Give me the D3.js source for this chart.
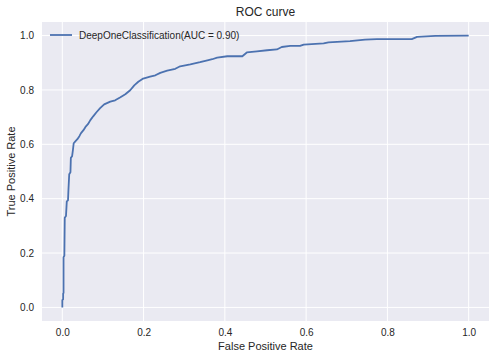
<!DOCTYPE html>
<html>
<head>
<meta charset="utf-8">
<script src="https://cdn.jsdelivr.net/npm/d3@7"></script>
<style>
  body { margin: 0; background: #fff; }
  text { font-family: "Liberation Sans", Arial, sans-serif; fill: #262626; }
</style>
</head>
<body>
<svg id="chart" width="495" height="359"></svg>
<script>
// ROC points
const fpr = [0, 0, 0.002, 0.002, 0.003, 0.003, 0.005, 0.006, 0.009, 0.011, 0.014, 0.015, 0.017, 0.02,
  0.021, 0.024, 0.026, 0.028, 0.032, 0.037, 0.042, 0.046, 0.052, 0.057, 0.063, 0.069, 0.076, 0.084,
  0.093, 0.103, 0.118, 0.13, 0.143, 0.155, 0.167, 0.177, 0.187, 0.199, 0.216, 0.229, 0.241, 0.258,
  0.278, 0.29, 0.315, 0.339, 0.357, 0.369, 0.381, 0.406, 0.443, 0.454, 0.479, 0.504, 0.528, 0.54,
  0.561, 0.585, 0.594, 0.643, 0.655, 0.708, 0.745, 0.774, 0.86, 0.873, 0.918, 0.995, 1];
const tpr = [0, 0.027, 0.03, 0.051, 0.053, 0.185, 0.19, 0.33, 0.336, 0.39, 0.394, 0.43, 0.49, 0.497,
  0.55, 0.556, 0.578, 0.604, 0.611, 0.619, 0.63, 0.641, 0.652, 0.664, 0.674, 0.689, 0.703, 0.718,
  0.733, 0.747, 0.757, 0.762, 0.773, 0.784, 0.799, 0.817, 0.83, 0.842, 0.849, 0.854, 0.863, 0.871,
  0.878, 0.887, 0.894, 0.902, 0.909, 0.913, 0.919, 0.924, 0.924, 0.938, 0.942, 0.946, 0.949, 0.958,
  0.962, 0.962, 0.967, 0.971, 0.975, 0.98, 0.985, 0.987, 0.987, 0.995, 0.999, 1, 1];
const ticks = [0, 0.2, 0.4, 0.6, 0.8, 1.0];
const legendLabel = "DeepOneClassification(AUC = 0.90)";

const svg = d3.select("#chart");
const margin = {left: 42, right: 6, top: 22, bottom: 38};
const width = 495, height = 359;

const xScale = d3.scaleLinear().domain([-0.05, 1.05]).range([margin.left, width - margin.right]);
const yScale = d3.scaleLinear().domain([-0.05, 1.05]).range([height - margin.bottom, margin.top]);

svg.append("rect")
    .attr("x", margin.left)
    .attr("y", margin.top)
    .attr("width", xScale.range()[1] - xScale.range()[0])
    .attr("height", yScale.range()[0] - yScale.range()[1])
    .attr("fill", "#EAEAF2");

// grid
svg.append("g").selectAll("line").data(ticks).join("line")
    .attr("x1", d => xScale(d)).attr("x2", d => xScale(d))
    .attr("y1", yScale.range()[0]).attr("y2", yScale.range()[1])
    .attr("stroke", "#fff").attr("stroke-width", 1);
svg.append("g").selectAll("line").data(ticks).join("line")
    .attr("y1", d => yScale(d)).attr("y2", d => yScale(d))
    .attr("x1", xScale.range()[0]).attr("x2", xScale.range()[1])
    .attr("stroke", "#fff").attr("stroke-width", 1);

// axes
const xAxis = svg.append("g")
    .attr("transform", `translate(0,${yScale.range()[0]})`)
    .call(d3.axisBottom(xScale).tickValues(ticks).tickFormat(d3.format(".1f")).tickSize(0).tickPadding(8));
const yAxis = svg.append("g")
    .attr("transform", `translate(${margin.left},0)`)
    .call(d3.axisLeft(yScale).tickValues(ticks).tickFormat(d3.format(".1f")).tickSize(0).tickPadding(8));
[xAxis, yAxis].forEach(a => {
    a.select(".domain").remove();
    a.selectAll("text").attr("font-size", 10).attr("fill", "#262626")
        .style("font-family", '"Liberation Sans", Arial, sans-serif');
});

// curve
const line = d3.line()
    .curve(d3.curveLinear)
    .x(i => xScale(fpr[i]))
    .y(i => yScale(tpr[i]));
svg.append("path")
    .attr("fill", "none")
    .attr("stroke", "#4C72B0")
    .attr("stroke-width", 1.8)
    .attr("stroke-linejoin", "round")
    .attr("d", line(d3.range(fpr.length)));

// legend
svg.append("line")
    .attr("x1", 50).attr("x2", 72).attr("y1", 35).attr("y2", 35)
    .attr("stroke", "#4C72B0").attr("stroke-width", 1.8);
svg.append("text")
    .attr("x", 79).attr("y", 38.5)
    .attr("font-size", 10)
    .text(legendLabel);

// labels
svg.append("text")
    .attr("x", (xScale.range()[0] + xScale.range()[1]) / 2).attr("y", 16)
    .attr("text-anchor", "middle").attr("font-size", 12)
    .text("ROC curve");
svg.append("text")
    .attr("x", (xScale.range()[0] + xScale.range()[1]) / 2).attr("y", 350)
    .attr("text-anchor", "middle").attr("font-size", 11)
    .text("False Positive Rate");
svg.append("text")
    .attr("transform", `translate(15,${(yScale.range()[0] + yScale.range()[1]) / 2}) rotate(-90)`)
    .attr("text-anchor", "middle").attr("font-size", 11)
    .text("True Positive Rate");
</script>
</body>
</html>
